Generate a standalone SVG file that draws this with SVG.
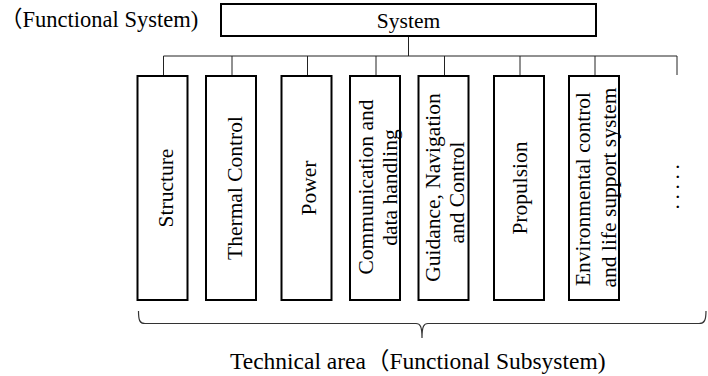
<svg xmlns="http://www.w3.org/2000/svg" width="708" height="376" viewBox="0 0 708 376">
<style>
  .box{fill:#fff;stroke:#000;stroke-width:2}
  .t{font-family:"Liberation Serif","Times New Roman","DejaVu Serif",serif;font-size:21.5px;fill:#000}
  .cjk{font-family:"Noto Sans CJK SC","Noto Sans CJK JP",sans-serif}
  .v{text-anchor:middle}
  .ln{fill:none;stroke:#222;stroke-width:1}
  .br{fill:none;stroke:#333;stroke-width:1.2}
</style>
<rect width="708" height="376" fill="#fff"/>
<text class="t" x="0" y="27" style="font-size:22.5px"><tspan class="cjk">（</tspan>Functional System)</text>
<g id="connectors">
  <path class="ln" d="M408.5,37 V56 M163.5,56 H677 M163.5,56 V75 M232,56 V75 M307.5,56 V75 M376,56 V75 M444.5,56 V75 M520,56 V75 M595,56 V75 M677,56 V75"/>
</g>
<g id="system">
  <rect class="box" x="221" y="4" width="375" height="32"/>
  <text class="t" x="408.5" y="28.3" text-anchor="middle">System</text>
</g>
<g id="structure">
  <rect class="box" x="137.5" y="76" width="50" height="224"/>
  <text class="t v" transform="translate(172.5,188) rotate(-90)">Structure</text>
</g>
<g id="thermal">
  <rect class="box" x="206" y="76" width="50" height="224"/>
  <text class="t v" transform="translate(241.5,188) rotate(-90)">Thermal Control</text>
</g>
<g id="power">
  <rect class="box" x="281.5" y="76" width="50" height="224"/>
  <text class="t v" transform="translate(316,188) rotate(-90)">Power</text>
</g>
<g id="comm">
  <rect class="box" x="350" y="76" width="50" height="224"/>
  <text class="t v" transform="translate(373.3,187) rotate(-90)">Communication and</text>
  <text class="t v" transform="translate(397,187.5) rotate(-90)">data handling</text>
</g>
<g id="gnc">
  <rect class="box" x="418.5" y="76" width="50" height="224"/>
  <text class="t v" transform="translate(440,187.5) rotate(-90)">Guidance, Navigation</text>
  <text class="t v" transform="translate(463.5,192.5) rotate(-90)">and Control</text>
</g>
<g id="propulsion">
  <rect class="box" x="494" y="76" width="50" height="224"/>
  <text class="t v" transform="translate(527,188) rotate(-90)">Propulsion</text>
</g>
<g id="eclss">
  <rect class="box" x="569" y="76" width="50" height="224"/>
  <text class="t v" transform="translate(590,189) rotate(-90)">Environmental control</text>
  <text class="t v" transform="translate(616,187.5) rotate(-90)">and life support system</text>
</g>
<g id="more">
  <text class="t" transform="translate(678.5,209.4) rotate(-90)" style="letter-spacing:4.6px">.....</text>
</g>
<g id="brace">
  <path class="br" d="M138.5,311 C138.5,320 139.5,323.5 145,323.5 L416,323.5 C420,323.5 422,326 422,338 C422,326 424,323.5 428,323.5 L699,323.5 C704.5,323.5 706,320 706,311"/>
  <text class="t" x="230" y="369" style="font-size:23.5px"><tspan>Technical area</tspan><tspan class="cjk">（</tspan><tspan>Functional Subsystem)</tspan></text>
</g>
</svg>
